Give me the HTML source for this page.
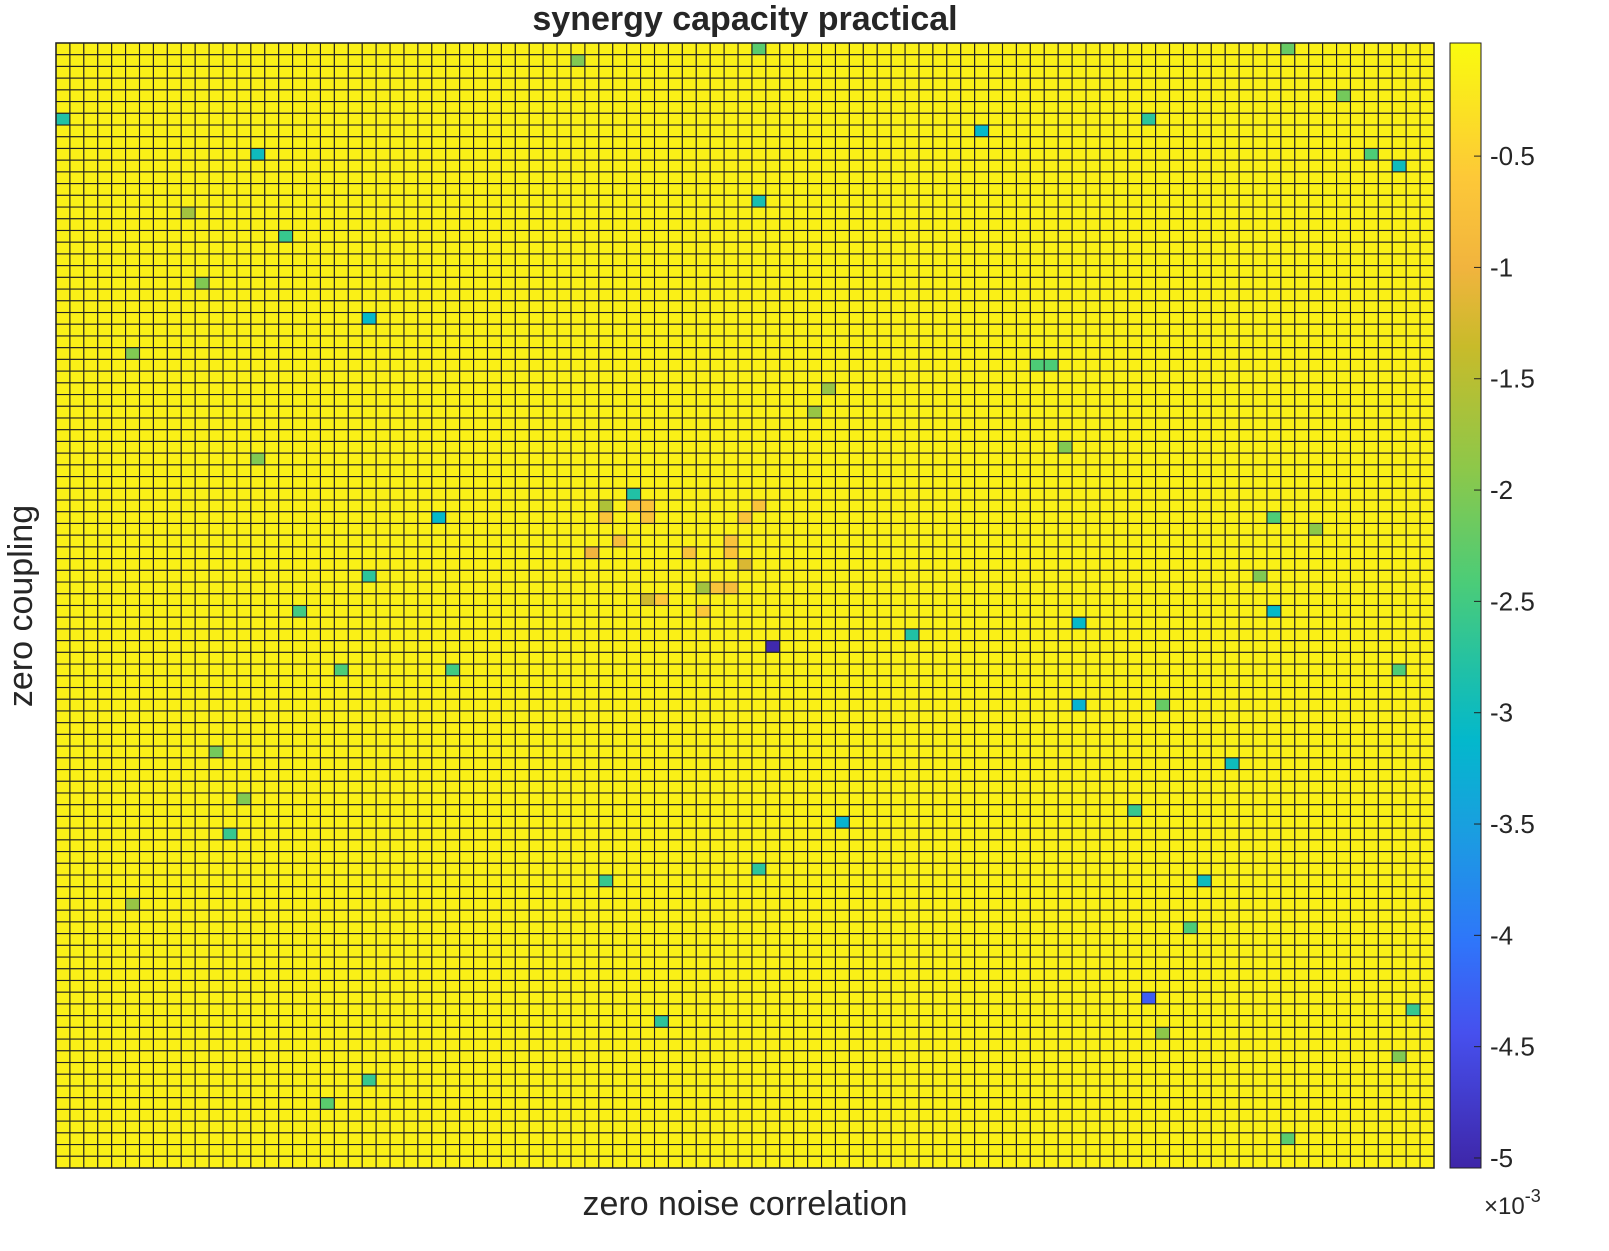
<!DOCTYPE html>
<html><head><meta charset="utf-8"><style>
body{margin:0;background:#fff;}
svg{display:block;font-family:"Liberation Sans",sans-serif;}
</style></head><body>
<svg id="c" width="1609" height="1251"></svg>
<script>
const nCols = 99;
const nRows = 96;
const baseValue = -0.12;
const cellRows = [6,9,0,0,7,6,10,13,16,23,27,27,38,40,45,48,51,50,49,48,56,61,66,67,71,81,82,83,88,90,75,65,71,70,93,40,9,4,53,53,53,56,1,20,26,29,34,41,45,60,64,73,84,86,31,35,14,
 39,39,39,40,40,40,42,43,43,42,43,46,46,46,47,44,48,47,39];
const cellCols = [0,14,50,88,66,78,96,50,16,22,70,71,41,27,22,17,51,61,73,87,73,84,56,12,82,78,97,43,22,19,81,77,39,50,88,87,94,92,28,20,96,79,37,10,5,55,72,90,86,11,13,5,79,96,54,14,9,
 50,42,41,39,42,49,40,38,48,48,45,48,46,47,42,49,46,43,39];
const cellVals = [-2.8,-3.0,-2.3,-2.2,-3.1,-2.7,-3.0,-2.9,-2.6,-3.1,-2.4,-2.4,-2.8,-3.1,-2.7,-2.5,-5.0,-2.8,-3.1,-3.1,-3.2,-3.0,-3.2,-2.6,-3.0,-4.3,-2.6,-2.7,-2.6,-2.3,-2.4,-2.6,-2.6,-2.7,-2.3,-2.4,-2.4,-2.1,-2.5,-2.4,-2.4,-2.2,-2.0,-2.0,-2.0,-1.8,-2.0,-1.9,-2.0,-2.1,-2.0,-1.8,-1.9,-2.0,-1.8,-2.0,-1.7,
 -0.7,-0.7,-0.7,-0.7,-0.7,-0.7,-0.8,-1.0,-0.7,-0.7,-0.7,-0.8,-1.7,-0.7,-1.3,-1.2,-0.6,-0.6,-1.6];
const cbTicks = [-0.5,-1,-1.5,-2,-2.5,-3,-3.5,-4,-4.5,-5];
const cbLabels = ["-0.5","-1","-1.5","-2","-2.5","-3","-3.5","-4","-4.5","-5"];

const NS="http://www.w3.org/2000/svg";
const svg=document.getElementById('c');
const X0=56,X1=1434,Y0=43,Y1=1168;
const vmin=-5.045,vmax=0.008;
const cw=(X1-X0)/nCols,ch=(Y1-Y0)/nRows;
const stopT=[0,0.12,0.2,0.3,0.38,0.44,0.52,0.62,0.73,0.8,0.88,1];
const stops=["#3e26a8","#4650ee","#2f75fa","#1a9ee0","#03b8cc","#1fc0a8","#4bcc78","#8cc84a","#c8bb2a","#f1b43e","#fdc838","#f9fb0e"];
function hex(h){return [1,3,5].map(i=>parseInt(h.substr(i,2),16));}
function color(v){let t=(v-vmin)/(vmax-vmin);t=Math.max(0,Math.min(1,t));let i=0;while(i<stopT.length-2&&t>stopT[i+1])i++;
const f=(t-stopT[i])/(stopT[i+1]-stopT[i]);const a=hex(stops[i]),b=hex(stops[i+1]);return `rgb(${a.map((x,k)=>Math.round(x+(b[k]-x)*f)).join(',')})`;}
function xs(c){return X0+c*cw;}
function ys(r){return Y0+r*ch;}
function cbY(v){return Y0+(vmax-v)/(vmax-vmin)*(Y1-Y0);}
function el(t,a,p){const e=document.createElementNS(NS,t);for(const k in a)e.setAttribute(k,a[k]);(p||svg).appendChild(e);return e;}
const grid=[];for(let r=0;r<nRows;r++){grid.push(new Array(nCols).fill(baseValue));}
for(let i=0;i<cellVals.length;i++){if(cellRows[i]<nRows&&cellCols[i]<nCols)grid[cellRows[i]][cellCols[i]]=cellVals[i];}
const g=el('g',{});


for(let r=0;r<nRows;r++)for(let c=0;c<nCols;c++){
 const rc=el('rect',{x:xs(c),y:ys(r),width:cw,height:ch,fill:color(grid[r][c]),stroke:'#222',"stroke-width":1.1},g);
 
 
}
const fr=el('rect',{x:X0,y:Y0,width:X1-X0,height:Y1-Y0,fill:'none',stroke:'#222',"stroke-width":1.5});


const defs=el('defs',{});const lg=el('linearGradient',{id:'pg',x1:0,y1:1,x2:0,y2:0},defs);
stops.forEach((s,i)=>el('stop',{offset:stopT[i],"stop-color":s},lg));
const cb=el('rect',{x:1450,y:Y0,width:31,height:Y1-Y0,fill:'url(#pg)',stroke:'#222',"stroke-width":1});


cbTicks.forEach((v,i)=>{const y=cbY(v);
 el('line',{x1:1474,x2:1481,y1:y,y2:y,stroke:'#222'});
 const t=el('text',{x:1490,y:y+9,"font-size":26,fill:'#262626'});t.textContent=cbLabels[i];
 
 });
function txt(s,a,name){const t=el('text',a);t.textContent=s;return t;}
txt('synergy capacity practical',{x:745,y:30,"font-size":34,"font-weight":"bold","text-anchor":"middle",fill:'#262626'},'chart-title');
txt('zero noise correlation',{x:745,y:1215,"font-size":34,"text-anchor":"middle",fill:'#262626'},'x-axis-title');
txt('zero coupling',{x:0,y:0,"font-size":34,"text-anchor":"middle",fill:'#262626',transform:'translate(32,606) rotate(-90)'},'y-axis-title');
const ex=txt('×10',{x:1484,y:1214,"font-size":24,fill:'#262626'},'colorbar-exponent');
const sp=el('tspan',{dy:-12,"font-size":18},ex);sp.textContent='-3';
</script>
</body></html>
